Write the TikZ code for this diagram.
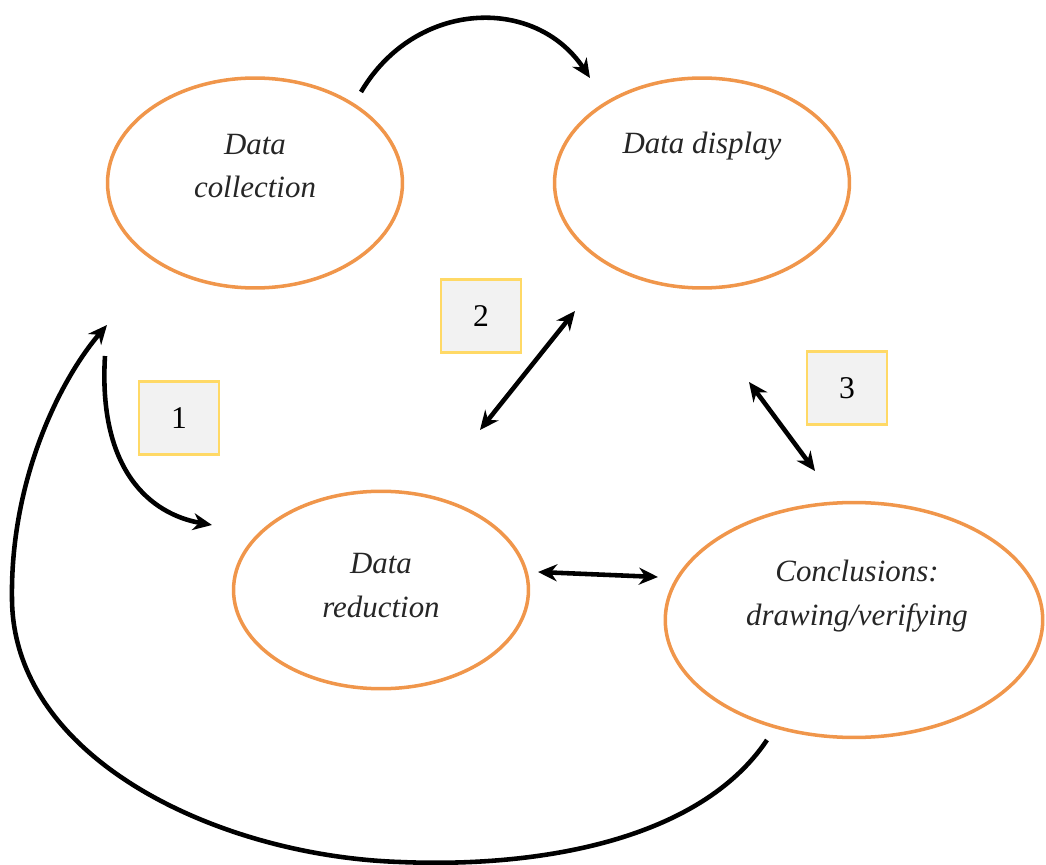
\documentclass[tikz,border=0pt]{standalone}
\usepackage{fontspec}
\setmainfont{Liberation Serif}
\usetikzlibrary{shapes.geometric,arrows.meta,positioning}
\definecolor{ovalorange}{RGB}{240,150,75}
\definecolor{boxgold}{RGB}{255,217,102}
\definecolor{boxgray}{RGB}{242,242,242}

\begin{document}
\begin{tikzpicture}[x=0.02cm,y=-0.02cm,
    stage/.style={ellipse,draw=ovalorange,line width=2pt,inner sep=0pt},
    stagetext/.style={font=\fontsize{17.6}{25}\selectfont\itshape,align=center,
      text=black!85},
    numbox/.style={draw=boxgold,fill=boxgray,line width=1.3pt,
      minimum width=1.6cm,minimum height=1.46cm,
      font=\fontsize{18}{21}\selectfont},
    flow/.style={line width=2.6pt,-{Stealth[length=3.8mm,width=3.4mm]}},
    both/.style={line width=2.6pt,
      {Stealth[length=3.8mm,width=3.4mm]}-{Stealth[length=3.8mm,width=3.4mm]}}]
    \useasboundingbox (0,0) rectangle (1046,865);

    % the four stages
    \node[stage,minimum width=5.9cm,minimum height=4.2cm] (collect) at (255,183) {};
    \node[stagetext] (collecttext) at (255,166) {Data\\collection};

    \node[stage,minimum width=5.9cm,minimum height=4.2cm] (display) at (702,183) {};
    \node[stagetext] (displaytext) at (702,146) {Data display};

    \node[stage,minimum width=5.9cm,minimum height=3.95cm] (reduce) at (381,590) {};
    \node[stagetext] (reducetext) at (381,586) {Data\\reduction};

    \node[stage,minimum width=7.55cm,minimum height=4.7cm] (conclude) at (854,620) {};
    \node[stagetext] (concludetext) at (857,596) {Conclusions:\\drawing/verifying};

    % numbered boxes
    \node[numbox] (one) at (179,418) {1};
    \node[numbox] (two) at (481,316) {2};
    \node[numbox] (three) at (847,388) {3};

    % arrow ends
    \coordinate (collectout) at (361,92);
    \coordinate (displayin) at (590,78);
    \coordinate (collectdown) at (105,356);
    \coordinate (reducein) at (212,525);
    \coordinate (reduceup) at (480,430);
    \coordinate (displaydown) at (575,311);
    \coordinate (displayright) at (749,382);
    \coordinate (concludeup) at (815,471);
    \coordinate (reduceright) at (538,572);
    \coordinate (concludeleft) at (658,577);
    \coordinate (concludeout) at (767,740);
    \coordinate (collectin) at (107,325);

    \draw[flow] (collectout) .. controls (415,0) and (535,-5) .. (displayin);
    \draw[flow] (collectdown) .. controls (98,470) and (150,514) .. (reducein);
    \draw[both] (reduceup) -- (displaydown);
    \draw[both] (displayright) -- (concludeup);
    \draw[both] (reduceright) -- (concludeleft);
    \draw[flow] (concludeout) .. controls (700,840) and (540,868) .. (400,862)
      .. controls (220,856) and (14,760) .. (12,600)
      .. controls (10,480) and (60,380) .. (collectin);
\end{tikzpicture}
\end{document}
